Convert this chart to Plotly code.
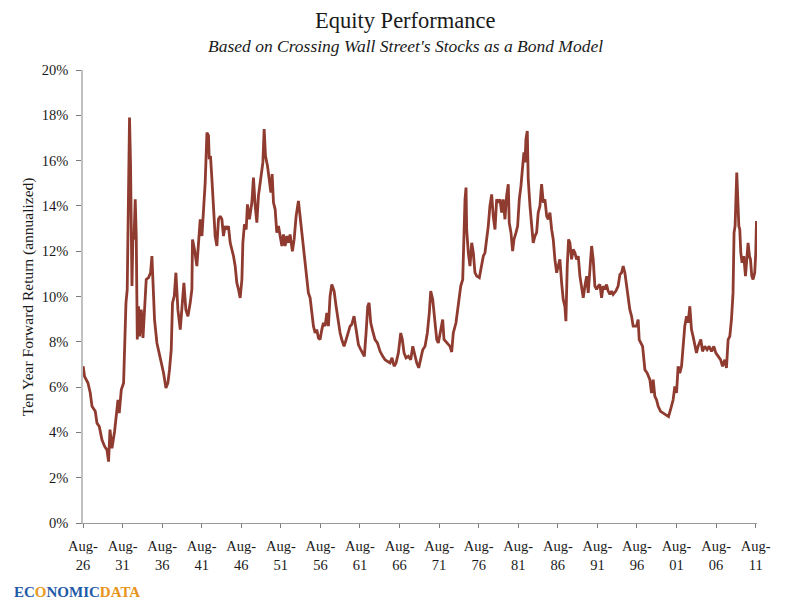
import pandas as pd
import plotly.graph_objects as go

# decimal year of each reading and the ten year forward return (%)
years = [
    1926.60, 1926.78, 1927.21, 1927.50, 1927.72, 1928.13, 1928.35, 1928.64, 1928.98, 1929.31,
    1929.61, 1929.81, 1929.99, 1930.24, 1930.57, 1930.87, 1931.00, 1931.16, 1931.42, 1931.71,
    1931.83, 1932.01, 1932.17, 1932.26, 1932.34, 1932.46, 1932.59, 1932.68, 1932.77, 1932.89,
    1933.02, 1933.18, 1933.31, 1933.44, 1933.60, 1933.73, 1933.94, 1934.16, 1934.36, 1934.57,
    1934.86, 1935.12, 1935.29, 1935.46, 1935.62, 1935.92, 1936.21, 1936.47, 1936.76, 1937.06,
    1937.31, 1937.51, 1937.73, 1937.89, 1938.11, 1938.32, 1938.57, 1938.87, 1939.08, 1939.33,
    1939.58, 1939.84, 1940.13, 1940.34, 1940.42, 1940.67, 1940.97, 1941.18, 1941.39, 1941.61,
    1941.81, 1942.02, 1942.24, 1942.44, 1942.53, 1942.69, 1942.87, 1943.07, 1943.28, 1943.50,
    1943.70, 1943.92, 1944.13, 1944.33, 1944.55, 1944.76, 1944.96, 1945.18, 1945.39, 1945.60,
    1945.81, 1946.02, 1946.23, 1946.44, 1946.66, 1946.78, 1946.98,
    1947.20, 1947.36, 1947.61, 1947.92, 1948.12, 1948.34, 1948.55, 1948.75, 1949.05, 1949.31,
    1949.47, 1949.64, 1949.89, 1950.14, 1950.32, 1950.48, 1950.65, 1950.86, 1951.07, 1951.28,
    1951.49, 1951.71, 1951.91, 1952.12, 1952.34, 1952.54, 1952.75, 1953.04, 1953.26, 1953.51,
    1953.80, 1954.02, 1954.23, 1954.43, 1954.65, 1954.86, 1955.06, 1955.28, 1955.49, 1955.70,
    1955.91, 1956.12, 1956.33, 1956.54, 1956.76, 1956.96, 1957.17, 1957.39, 1957.59, 1957.80,
    1958.02, 1958.31, 1958.56, 1958.78, 1959.07, 1959.28, 1959.57, 1959.83, 1960.12, 1960.33,
    1960.54, 1960.83, 1961.09, 1961.38, 1961.68, 1961.93, 1962.13, 1962.35, 1962.56, 1962.73,
    1962.94, 1963.19, 1963.48, 1963.78, 1964.12, 1964.46, 1964.75, 1965.04, 1965.38, 1965.63,
    1965.89, 1966.14, 1966.43, 1966.73, 1966.93, 1967.15, 1967.40, 1967.69, 1967.99, 1968.25,
    1968.45, 1968.75, 1969.00, 1969.26, 1969.51, 1969.80, 1970.09, 1970.34, 1970.52, 1970.77,
    1970.97, 1971.28, 1971.48, 1971.69,
    1972.03, 1972.20, 1972.54, 1972.96, 1973.17, 1973.37, 1973.71, 1974.00, 1974.31, 1974.56,
    1974.72, 1974.85, 1974.98, 1975.06, 1975.27, 1975.48, 1975.70, 1975.90, 1976.11, 1976.33,
    1976.66, 1976.96, 1977.16, 1977.37, 1977.59, 1977.79, 1978.00, 1978.22, 1978.42, 1978.64,
    1978.85, 1979.05, 1979.27, 1979.48, 1979.68, 1979.90, 1980.11, 1980.32, 1980.44, 1980.66,
    1980.87, 1981.04, 1981.29, 1981.50, 1981.71, 1981.92, 1982.14, 1982.30, 1982.43, 1982.55,
    1982.72, 1982.84, 1983.06, 1983.27, 1983.47, 1983.69, 1983.90, 1984.10, 1984.32, 1984.53,
    1984.74, 1984.95, 1985.17, 1985.37, 1985.58, 1985.80, 1986.00, 1986.21, 1986.43, 1986.63,
    1986.84, 1987.06, 1987.26, 1987.47, 1987.60, 1987.77, 1987.94, 1988.11, 1988.32, 1988.52,
    1988.74, 1988.95, 1989.16, 1989.37, 1989.58, 1989.79, 1990.00, 1990.22, 1990.42, 1990.63,
    1990.85, 1991.05, 1991.26, 1991.48, 1991.68, 1991.89, 1992.11, 1992.31, 1992.53, 1992.74,
    1992.94, 1993.16, 1993.37, 1993.57, 1993.91, 1994.20, 1994.42, 1994.63, 1994.84, 1995.05,
    1995.27, 1995.47, 1995.68, 1995.90, 1996.10, 1996.53, 1996.73, 1996.86,
    1997.29, 1997.58, 1997.87, 1998.21, 1998.42, 1998.63, 1998.84, 1999.05, 1999.26, 1999.56,
    1999.89, 2000.23, 2000.57, 2000.82, 2001.15, 2001.36, 2001.58, 2001.78, 2001.99, 2002.21,
    2002.41, 2002.62, 2002.84, 2003.04, 2003.26, 2003.47, 2003.67, 2003.89, 2004.10, 2004.30,
    2004.65, 2004.86, 2005.15, 2005.44, 2005.70, 2006.00, 2006.29, 2006.54, 2006.83, 2007.14,
    2007.39, 2007.68, 2007.89, 2008.10, 2008.31, 2008.52, 2008.72, 2008.85, 2008.98, 2009.11,
    2009.19, 2009.32, 2009.45, 2009.57, 2009.70, 2009.86, 2010.08, 2010.29, 2010.46, 2010.62,
    2010.80, 2010.92, 2011.09, 2011.25, 2011.46, 2011.59, 2011.68,
]

forward_return = [
    6.92, 6.47, 6.18, 5.74, 5.15, 4.93, 4.41, 4.26, 3.67, 3.38,
    3.23, 2.71, 4.12, 3.30, 4.04, 4.93, 5.44, 4.85, 5.88, 6.18,
    8.24, 9.72, 10.30, 13.55, 14.88, 17.90, 15.77, 12.08, 10.46, 12.67,
    12.52, 14.29, 12.67, 8.10, 9.57, 8.24, 9.42, 8.17, 9.57, 10.75,
    10.83, 11.05, 11.78, 10.31, 8.98, 7.95, 7.51, 7.07, 6.62, 5.96,
    6.18, 6.77, 7.65, 9.72, 10.01, 11.05, 9.42, 8.54, 9.42, 10.60,
    9.42, 9.13, 9.72, 10.31, 12.52, 12.08, 11.34, 12.37, 13.41, 12.67,
    13.85, 15.03, 17.24, 17.10, 16.06, 16.20, 15.18, 14.15, 12.67, 12.23,
    13.41, 13.55, 13.41, 12.67, 13.11, 12.96, 13.11, 12.37, 12.08, 11.78,
    11.34, 10.60, 10.31, 9.94, 10.75, 12.37, 13.19,
    12.96, 14.07, 13.41, 14.15, 15.25, 14.00, 13.26, 14.44, 15.25, 15.92,
    17.39, 16.20, 15.77, 15.18, 14.59, 15.40, 14.15, 13.85, 12.82, 13.11,
    12.74, 12.23, 12.74, 12.23, 12.67, 12.37, 12.74, 12.00, 12.52, 13.55,
    14.22, 13.55, 12.96, 12.08, 11.49, 10.90, 10.16, 9.94, 9.28, 8.69,
    8.39, 8.54, 8.17, 8.10, 8.54, 8.84, 8.69, 9.28, 8.69, 10.01,
    10.53, 10.24, 9.57, 8.98, 8.39, 8.10, 7.80, 8.10, 8.39, 8.69,
    8.76, 9.13, 8.54, 7.88, 7.65, 7.51, 7.36, 8.39, 9.57, 9.72,
    8.84, 8.47, 8.10, 7.95, 7.58, 7.36, 7.21, 7.14, 7.07, 7.29,
    6.92, 7.07, 7.51, 8.39, 8.10, 7.51, 7.29, 7.36, 7.21, 7.80,
    7.51, 7.07, 6.85, 7.21, 7.65, 7.80, 8.39, 9.28, 10.24, 9.87,
    9.13, 8.10, 7.95, 8.39,
    8.98, 8.10, 7.95, 7.80, 7.55, 8.39, 8.84, 9.72, 10.46, 10.75,
    13.11, 14.29, 14.81, 12.96, 11.93, 11.34, 12.37, 11.93, 11.05, 10.90,
    10.83, 11.34, 11.78, 11.93, 12.52, 13.11, 14.00, 14.51, 13.55, 12.96,
    14.29, 14.15, 14.29, 13.70, 14.29, 13.41, 14.44, 14.96, 13.26, 12.82,
    12.00, 12.52, 12.82, 13.11, 14.29, 14.88, 15.77, 16.36, 15.92, 16.95,
    17.31, 15.18, 14.00, 13.26, 12.37, 12.67, 12.82, 13.70, 14.00, 14.96,
    14.15, 14.29, 13.55, 13.41, 13.70, 12.96, 12.52, 11.64, 11.05, 11.34,
    11.64, 10.60, 9.87, 9.57, 8.91, 11.34, 12.52, 12.37, 11.64, 12.08,
    11.93, 11.64, 11.78, 10.90, 10.31, 9.94, 10.46, 10.90, 10.16, 11.05,
    12.23, 11.64, 10.46, 10.31, 10.46, 10.53, 9.94, 10.46, 10.31, 10.53,
    10.24, 10.09, 10.24, 10.09, 10.24, 10.46, 10.97, 11.05, 11.34, 11.05,
    10.46, 9.87, 9.42, 9.13, 8.69, 8.69, 8.98, 8.10,
    7.80, 6.77, 6.62, 6.33, 5.74, 6.33, 5.59, 5.44, 5.15, 4.93,
    4.85, 4.78, 4.70, 5.00, 5.44, 6.03, 5.74, 6.92, 6.62, 6.92,
    7.80, 8.69, 9.13, 8.84, 9.57, 8.54, 8.24, 7.80, 7.51, 7.80,
    8.10, 7.58, 7.80, 7.65, 7.80, 7.58, 7.80, 7.51, 7.36, 7.21,
    6.92, 7.21, 6.85, 8.10, 8.24, 8.98, 10.16, 12.82, 13.11, 14.29,
    15.47, 14.29, 13.11, 12.96, 11.93, 11.49, 11.78, 10.90, 11.78, 12.37,
    11.78, 11.64, 10.90, 10.75, 11.05, 11.93, 13.33,
]

tick_years = [1926, 1931, 1936, 1941, 1946, 1951, 1956, 1961, 1966,
              1971, 1976, 1981, 1986, 1991, 1996, 2001, 2006, 2011]
tick_labels = ["Aug-26", "Aug-31", "Aug-36", "Aug-41", "Aug-46", "Aug-51",
               "Aug-56", "Aug-61", "Aug-66", "Aug-71", "Aug-76", "Aug-81",
               "Aug-86", "Aug-91", "Aug-96", "Aug-01", "Aug-06", "Aug-11"]


def to_date(y):
    year = int(y)
    return pd.Timestamp(year=year, month=1, day=1) + pd.Timedelta(days=(y - year) * 365.25)


dates = [to_date(y) for y in years]
tick_dates = [pd.Timestamp(year=y, month=8, day=1) for y in tick_years]

serif = "Palatino Linotype, Book Antiqua, Liberation Serif, serif"

fig = go.Figure()
fig.add_trace(go.Scatter(x=dates, y=forward_return, mode='lines',
                         line=dict(color='#8f3b30', width=2.8), hoverinfo='x+y'))

# the page body adds an 8px offset, so the margins are trimmed by that much
fig.update_layout(
    width=800, height=611,
    margin=dict(l=75, r=51, t=62, b=96),
    paper_bgcolor='white', plot_bgcolor='white',
    showlegend=False,
    font=dict(family=serif, size=13, color='#1a1a1a'),
    xaxis=dict(
        range=[pd.Timestamp('1926-08-01'), pd.Timestamp('2011-10-01')],
        tickvals=tick_dates,
        ticktext=[t.replace('-', '-<br>') for t in tick_labels],
        showgrid=False, zeroline=False,
        showline=True, linecolor='#9a9a9a', linewidth=1,
        ticks='outside', ticklen=4, tickcolor='#7a7a7a',
        ticklabelstandoff=6,
        tickfont=dict(family=serif, size=14.5),
    ),
    yaxis=dict(
        range=[0, 20], dtick=2, ticksuffix='%',
        showgrid=False, zeroline=False,
        showline=True, linecolor='#c0c0c0', linewidth=1.5,
        ticks='outside', ticklen=5, tickcolor='#7a7a7a',
        ticklabelstandoff=5,
        tickfont=dict(family=serif, size=14.5),
    ),
)

fig.add_annotation(text="Equity Performance", xref='paper', yref='paper',
                   x=0.478, y=1.11, xanchor='center', yanchor='middle', showarrow=False,
                   font=dict(family=serif, size=22.5, color='#1a1a1a'))
fig.add_annotation(text="<i>Based on Crossing Wall Street's Stocks as a Bond Model</i>",
                   xref='paper', yref='paper', x=0.478, y=1.053,
                   xanchor='center', yanchor='middle', showarrow=False,
                   font=dict(family=serif, size=17.5, color='#1a1a1a'))
fig.add_annotation(text="Ten Year Forward Return (annualized)", textangle=-90,
                   xref='paper', yref='paper', x=-0.082, y=0.5,
                   xanchor='center', yanchor='middle', showarrow=False,
                   font=dict(family=serif, size=15.5, color='#1a1a1a'))
fig.add_annotation(
    text="<b>EC<span style='color:#e89a1c'>O</span>NOMIC<span style='color:#e8941a'>DATA</span></b>",
    xref='paper', yref='paper', x=-0.105, y=-0.153, xanchor='left', yanchor='middle',
    showarrow=False,
    font=dict(family="Liberation Serif, serif", size=15, color='#1f5aa6'))

fig.write_html("out.html")
